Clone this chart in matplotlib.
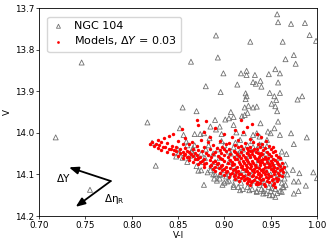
import numpy as np
import matplotlib
matplotlib.use("Agg")
import matplotlib.pyplot as plt

# ============================================================
# Data
# ============================================================
# NGC 104 observed stars (open triangles)
obs_vi = [
    0.746, 0.718, 0.755, 0.817, 0.826, 0.855, 0.864, 0.870, 0.880, 0.878,
    0.893, 0.891, 0.899, 0.896, 0.914, 0.918, 0.924, 0.924, 0.928, 0.931,
    0.933, 0.939, 0.940, 0.934, 0.948, 0.955, 0.957, 0.958, 0.960, 0.958,
    0.972, 0.987, 0.992, 0.999, 0.963, 0.975, 0.966, 0.977, 0.984, 0.979,
    0.949, 0.954, 0.956, 0.960, 0.951, 0.955, 0.957, 0.989, 0.972, 0.975,
    0.960, 0.954, 0.958, 0.966, 0.974, 0.975, 0.981, 0.980, 0.975, 0.980,
    0.988, 0.996, 1.000, 0.967, 0.962, 0.946, 0.950, 0.939, 0.935, 0.931,
    0.926, 0.922, 0.925, 0.922, 0.919, 0.910, 0.905, 0.901, 0.907, 0.923,
    0.923, 0.924, 0.947, 0.921, 0.931, 0.935, 0.938, 0.946, 0.938, 0.931,
    0.917, 0.912, 0.913, 0.910, 0.895, 0.890, 0.885, 0.878, 0.874, 0.868,
    0.884, 0.897, 0.891, 0.856, 0.852, 0.859, 0.851, 0.848, 0.866, 0.866,
    0.872, 0.889, 0.895, 0.903, 0.910, 0.917, 0.927, 0.935, 0.942, 0.949,
    0.955, 0.962, 0.964, 0.951, 0.822,
    # dense part of the turn-off
    0.860, 0.865, 0.870, 0.875, 0.880, 0.883, 0.888, 0.893, 0.897, 0.900,
    0.905, 0.910, 0.915, 0.920, 0.925, 0.930, 0.935, 0.940, 0.945, 0.950,
    0.955, 0.960, 0.958, 0.962, 0.965, 0.963, 0.885, 0.890, 0.895, 0.900,
    0.905, 0.910, 0.915, 0.920, 0.925, 0.930, 0.935, 0.940, 0.945, 0.950,
    0.955, 0.960, 0.900, 0.895, 0.905, 0.912, 0.918, 0.928, 0.938, 0.948,
    0.942, 0.952, 0.957, 0.870, 0.875, 0.860, 0.855, 0.850, 0.863, 0.877,
    0.890, 0.910, 0.920, 0.930, 0.940, 0.950, 0.945, 0.935, 0.925, 0.915,
    0.905, 0.895, 0.940, 0.950, 0.955, 0.960, 0.965, 0.968, 0.966, 0.888,
    0.882, 0.892, 0.898, 0.902, 0.913, 0.923, 0.933, 0.943, 0.953, 0.947,
    0.937, 0.927, 0.917, 0.907, 0.958, 0.962, 0.868, 0.879, 0.886, 0.896,
]
obs_v = [
    13.831, 14.011, 14.137, 13.975, 14.079, 13.939, 13.829, 13.948, 13.888, 14.125,
    13.819, 13.766, 13.857, 13.902, 13.884, 13.857, 13.851, 13.861, 13.781, 13.878,
    13.861, 13.875, 13.889, 13.882, 13.859, 13.847, 13.715, 13.734, 13.857, 13.879,
    13.738, 13.736, 13.765, 13.779, 13.781, 13.813, 13.823, 13.834, 13.912, 13.920,
    13.904, 13.912, 13.921, 13.904, 13.930, 13.936, 13.948, 14.011, 14.001, 14.027,
    14.005, 13.989, 13.973, 14.076, 14.089, 14.117, 14.097, 14.117, 14.146, 14.140,
    14.127, 14.095, 14.109, 14.051, 14.045, 14.017, 14.001, 13.977, 13.937, 13.939,
    13.935, 13.939, 13.952, 13.957, 13.960, 13.962, 13.965, 13.968, 13.950, 13.919,
    13.905, 13.912, 13.997, 14.001, 14.005, 14.001, 14.009, 14.032, 14.028, 14.034,
    14.017, 14.024, 13.999, 13.981, 13.985, 13.969, 13.985, 14.001, 14.003, 14.003,
    14.013, 14.003, 13.992, 14.005, 13.989, 14.021, 14.048, 14.057, 14.037, 14.049,
    14.091, 14.110, 14.101, 14.117, 14.130, 14.138, 14.138, 14.142, 14.146, 14.150,
    14.154, 14.142, 14.131, 14.133, 14.024,
    14.030, 14.045, 14.060, 14.050, 14.040, 14.030, 14.050, 14.040, 14.020, 14.030,
    14.045, 14.035, 14.050, 14.040, 14.030, 14.020, 14.040, 14.030, 14.050, 14.060,
    14.070, 14.080, 14.100, 14.120, 14.110, 14.130, 14.090, 14.100, 14.110, 14.120,
    14.115, 14.125, 14.130, 14.135, 14.130, 14.135, 14.140, 14.135, 14.145, 14.140,
    14.135, 14.140, 14.090, 14.080, 14.100, 14.110, 14.120, 14.120, 14.125, 14.130,
    14.140, 14.150, 14.145, 14.080, 14.090, 14.070, 14.060, 14.040, 14.055, 14.070,
    14.070, 14.080, 14.090, 14.100, 14.110, 14.100, 14.090, 14.080, 14.070, 14.060,
    14.070, 14.060, 14.060, 14.080, 14.090, 14.060, 14.090, 14.100, 14.125, 14.100,
    14.095, 14.115, 14.125, 14.105, 14.095, 14.105, 14.115, 14.120, 14.120, 14.070,
    14.065, 14.055, 14.045, 14.050, 14.110, 14.095, 14.030, 14.060, 14.080, 14.100,
]

# Models, Delta Y = 0.03 (red dots)
mod_vi = [
    0.870, 0.880, 0.918, 0.872, 0.930, 0.854, 0.890, 0.912, 0.925, 0.845,
    0.878, 0.900, 0.920, 0.935, 0.835, 0.840, 0.858, 0.885, 0.908, 0.928,
    0.940, 0.822, 0.828, 0.832, 0.850, 0.865, 0.875, 0.895, 0.905, 0.915,
    0.931, 0.945, 0.820, 0.826, 0.838, 0.862, 0.882, 0.902, 0.922, 0.936,
    0.824, 0.830, 0.834, 0.843, 0.855, 0.870, 0.888, 0.898, 0.912, 0.918,
    0.928, 0.941, 0.948, 0.828, 0.836, 0.840, 0.848, 0.858, 0.878, 0.892,
    0.905, 0.915, 0.925, 0.932, 0.938, 0.944, 0.952, 0.832, 0.842, 0.846,
    0.852, 0.860, 0.866, 0.872, 0.885, 0.895, 0.900, 0.910, 0.920, 0.926,
    0.930, 0.935, 0.942, 0.950, 0.955, 0.838, 0.848, 0.855, 0.862, 0.868,
    0.876, 0.890, 0.902, 0.912, 0.918, 0.924, 0.928, 0.934, 0.940, 0.946,
    0.953, 0.845, 0.852, 0.858, 0.864, 0.870, 0.880, 0.888, 0.896, 0.906,
    0.914, 0.920, 0.925, 0.930, 0.936, 0.941, 0.948, 0.956, 0.850, 0.856,
    0.862, 0.866, 0.874, 0.882, 0.893, 0.900, 0.910, 0.916, 0.922, 0.927,
    0.932, 0.938, 0.944, 0.950, 0.958, 0.855, 0.860, 0.868, 0.872, 0.878,
    0.886, 0.895, 0.904, 0.912, 0.918, 0.923, 0.928, 0.933, 0.937, 0.942,
    0.947, 0.952, 0.960, 0.862, 0.870, 0.876, 0.884, 0.890, 0.898, 0.906,
    0.914, 0.920, 0.925, 0.930, 0.935, 0.940, 0.945, 0.950, 0.955, 0.866,
    0.874, 0.880, 0.888, 0.893, 0.900, 0.908, 0.916, 0.921, 0.926, 0.931,
    0.936, 0.941, 0.946, 0.951, 0.957, 0.962, 0.872, 0.878, 0.886, 0.892,
    0.898, 0.904, 0.910, 0.917, 0.923, 0.928, 0.933, 0.938, 0.943, 0.948,
    0.953, 0.958, 0.878, 0.885, 0.890, 0.896, 0.902, 0.908, 0.914, 0.919,
    0.924, 0.929, 0.934, 0.939, 0.944, 0.949, 0.954, 0.960, 0.964, 0.888,
    0.894, 0.900, 0.906, 0.912, 0.918, 0.923, 0.928, 0.932, 0.937, 0.942,
    0.947, 0.952, 0.957, 0.962, 0.890, 0.897, 0.903, 0.909, 0.915, 0.920,
    0.925, 0.930, 0.935, 0.940, 0.945, 0.950, 0.955, 0.960, 0.895, 0.902,
    0.908, 0.913, 0.918, 0.923, 0.927, 0.932, 0.937, 0.942, 0.947, 0.952,
    0.958, 0.963, 0.900, 0.906, 0.911, 0.916, 0.921, 0.926, 0.931, 0.936,
    0.940, 0.944, 0.949, 0.954, 0.959, 0.905, 0.910, 0.915, 0.920, 0.925,
    0.930, 0.934, 0.939, 0.945, 0.950, 0.956, 0.962, 0.912, 0.918, 0.922,
    0.927, 0.932, 0.937, 0.942, 0.947, 0.952, 0.958, 0.916, 0.921, 0.926,
    0.930, 0.935, 0.940, 0.946, 0.951, 0.957, 0.924, 0.929, 0.934, 0.938,
    0.943, 0.948, 0.954, 0.928, 0.936, 0.944, 0.952, 0.955,
]
mod_v = [
    13.970, 13.972, 13.968, 13.981, 13.978, 13.990, 13.988, 13.993, 13.986, 14.002,
    13.998, 14.003, 13.997, 14.004, 14.012, 14.008, 14.013, 14.009, 14.011, 14.014,
    14.010, 14.021, 14.018, 14.023, 14.019, 14.022, 14.017, 14.020, 14.024, 14.018,
    14.022, 14.019, 14.026, 14.028, 14.024, 14.027, 14.023, 14.028, 14.025, 14.027,
    14.031, 14.029, 14.033, 14.031, 14.028, 14.032, 14.030, 14.033, 14.029, 14.031,
    14.033, 14.028, 14.032, 14.036, 14.034, 14.038, 14.035, 14.037, 14.033, 14.036,
    14.038, 14.034, 14.036, 14.039, 14.034, 14.037, 14.035, 14.041, 14.039, 14.042,
    14.040, 14.043, 14.039, 14.041, 14.038, 14.042, 14.040, 14.043, 14.039, 14.041,
    14.044, 14.040, 14.042, 14.039, 14.043, 14.046, 14.044, 14.047, 14.045, 14.048,
    14.043, 14.046, 14.044, 14.047, 14.045, 14.048, 14.044, 14.046, 14.049, 14.045,
    14.047, 14.051, 14.049, 14.052, 14.050, 14.053, 14.048, 14.051, 14.049, 14.052,
    14.050, 14.053, 14.049, 14.051, 14.048, 14.052, 14.050, 14.053, 14.056, 14.054,
    14.057, 14.055, 14.058, 14.053, 14.056, 14.054, 14.057, 14.055, 14.058, 14.053,
    14.056, 14.054, 14.058, 14.055, 14.057, 14.061, 14.059, 14.062, 14.060, 14.063,
    14.058, 14.061, 14.059, 14.062, 14.060, 14.063, 14.058, 14.061, 14.059, 14.062,
    14.060, 14.063, 14.061, 14.066, 14.064, 14.067, 14.065, 14.068, 14.063, 14.066,
    14.064, 14.067, 14.065, 14.068, 14.063, 14.066, 14.064, 14.067, 14.065, 14.071,
    14.069, 14.072, 14.070, 14.073, 14.068, 14.071, 14.069, 14.072, 14.070, 14.073,
    14.068, 14.071, 14.069, 14.072, 14.070, 14.073, 14.076, 14.074, 14.077, 14.075,
    14.078, 14.073, 14.076, 14.074, 14.077, 14.075, 14.078, 14.073, 14.076, 14.074,
    14.077, 14.075, 14.081, 14.079, 14.082, 14.080, 14.083, 14.078, 14.081, 14.079,
    14.082, 14.080, 14.083, 14.078, 14.081, 14.079, 14.082, 14.080, 14.083, 14.086,
    14.084, 14.087, 14.085, 14.088, 14.083, 14.086, 14.084, 14.087, 14.085, 14.088,
    14.083, 14.086, 14.084, 14.087, 14.091, 14.089, 14.092, 14.090, 14.093, 14.088,
    14.091, 14.089, 14.092, 14.090, 14.093, 14.088, 14.091, 14.089, 14.096, 14.094,
    14.097, 14.095, 14.098, 14.093, 14.096, 14.094, 14.097, 14.095, 14.098, 14.093,
    14.096, 14.094, 14.101, 14.099, 14.102, 14.100, 14.103, 14.098, 14.101, 14.099,
    14.102, 14.100, 14.103, 14.098, 14.101, 14.106, 14.104, 14.107, 14.105, 14.108,
    14.103, 14.106, 14.104, 14.107, 14.105, 14.108, 14.103, 14.111, 14.109, 14.112,
    14.110, 14.113, 14.108, 14.111, 14.109, 14.112, 14.110, 14.116, 14.114, 14.117,
    14.115, 14.118, 14.113, 14.116, 14.114, 14.117, 14.121, 14.119, 14.122, 14.120,
    14.123, 14.118, 14.121, 14.126, 14.124, 14.127, 14.125, 14.131,
]

legend_labels = ["NGC 104", r"Models, $\Delta Y$ = 0.03"]
x_ticks = [0.70, 0.75, 0.80, 0.85, 0.90, 0.95, 1.00]
y_ticks = [13.7, 13.8, 13.9, 14.0, 14.1, 14.2]

# ============================================================
# Plot
# ============================================================
fig = plt.figure(figsize=(3.32, 2.47), dpi=100)
ax = fig.add_axes([0.1175, 0.1255, 0.8373, 0.842])

ax.scatter(obs_vi, obs_v, marker="^", s=13, facecolors="none",
           edgecolors="#707070", linewidths=0.6, label=legend_labels[0])
ax.scatter(mod_vi, mod_v, marker="o", s=6, color="red", linewidths=0,
           label=legend_labels[1])

ax.set_xlim(0.70, 1.00)
ax.set_ylim(14.2, 13.7)
ax.set_xticks(x_ticks)
ax.set_yticks(y_ticks)
ax.set_xticklabels([f"{t:.2f}" for t in x_ticks])
ax.set_yticklabels([f"{t:.1f}" for t in y_ticks])
ax.tick_params(labelsize=6.3, length=2, width=0.5, pad=1.5)
ax.set_xlabel("V-I", fontsize=6.3, labelpad=1)
ax.set_ylabel("V", fontsize=6.3, labelpad=2)
for sp in ax.spines.values():
    sp.set_linewidth(0.6)

# direction arrows
arrow_kw = dict(arrowstyle="-|>,head_length=0.55,head_width=0.22", color="black",
                lw=1.3, shrinkA=0, shrinkB=0)
ax.annotate("", xy=(0.7324, 14.083), xytext=(0.7774, 14.116), arrowprops=arrow_kw)
ax.annotate("", xy=(0.7396, 14.178), xytext=(0.7774, 14.116), arrowprops=arrow_kw)
ax.text(0.7265, 14.111, "ΔY", fontsize=7.5, ha="center", va="center")
ax.text(0.770, 14.159, r"Δη$_\mathrm{R}$", fontsize=7.5, ha="left", va="center")

ax.legend(loc="upper left", fontsize=8, handletextpad=0.8, borderpad=0.4,
          labelspacing=0.3, handlelength=1.2, markerscale=0.8,
          bbox_to_anchor=(0.01, 0.985))

fig.savefig("out.png", dpi=100)
